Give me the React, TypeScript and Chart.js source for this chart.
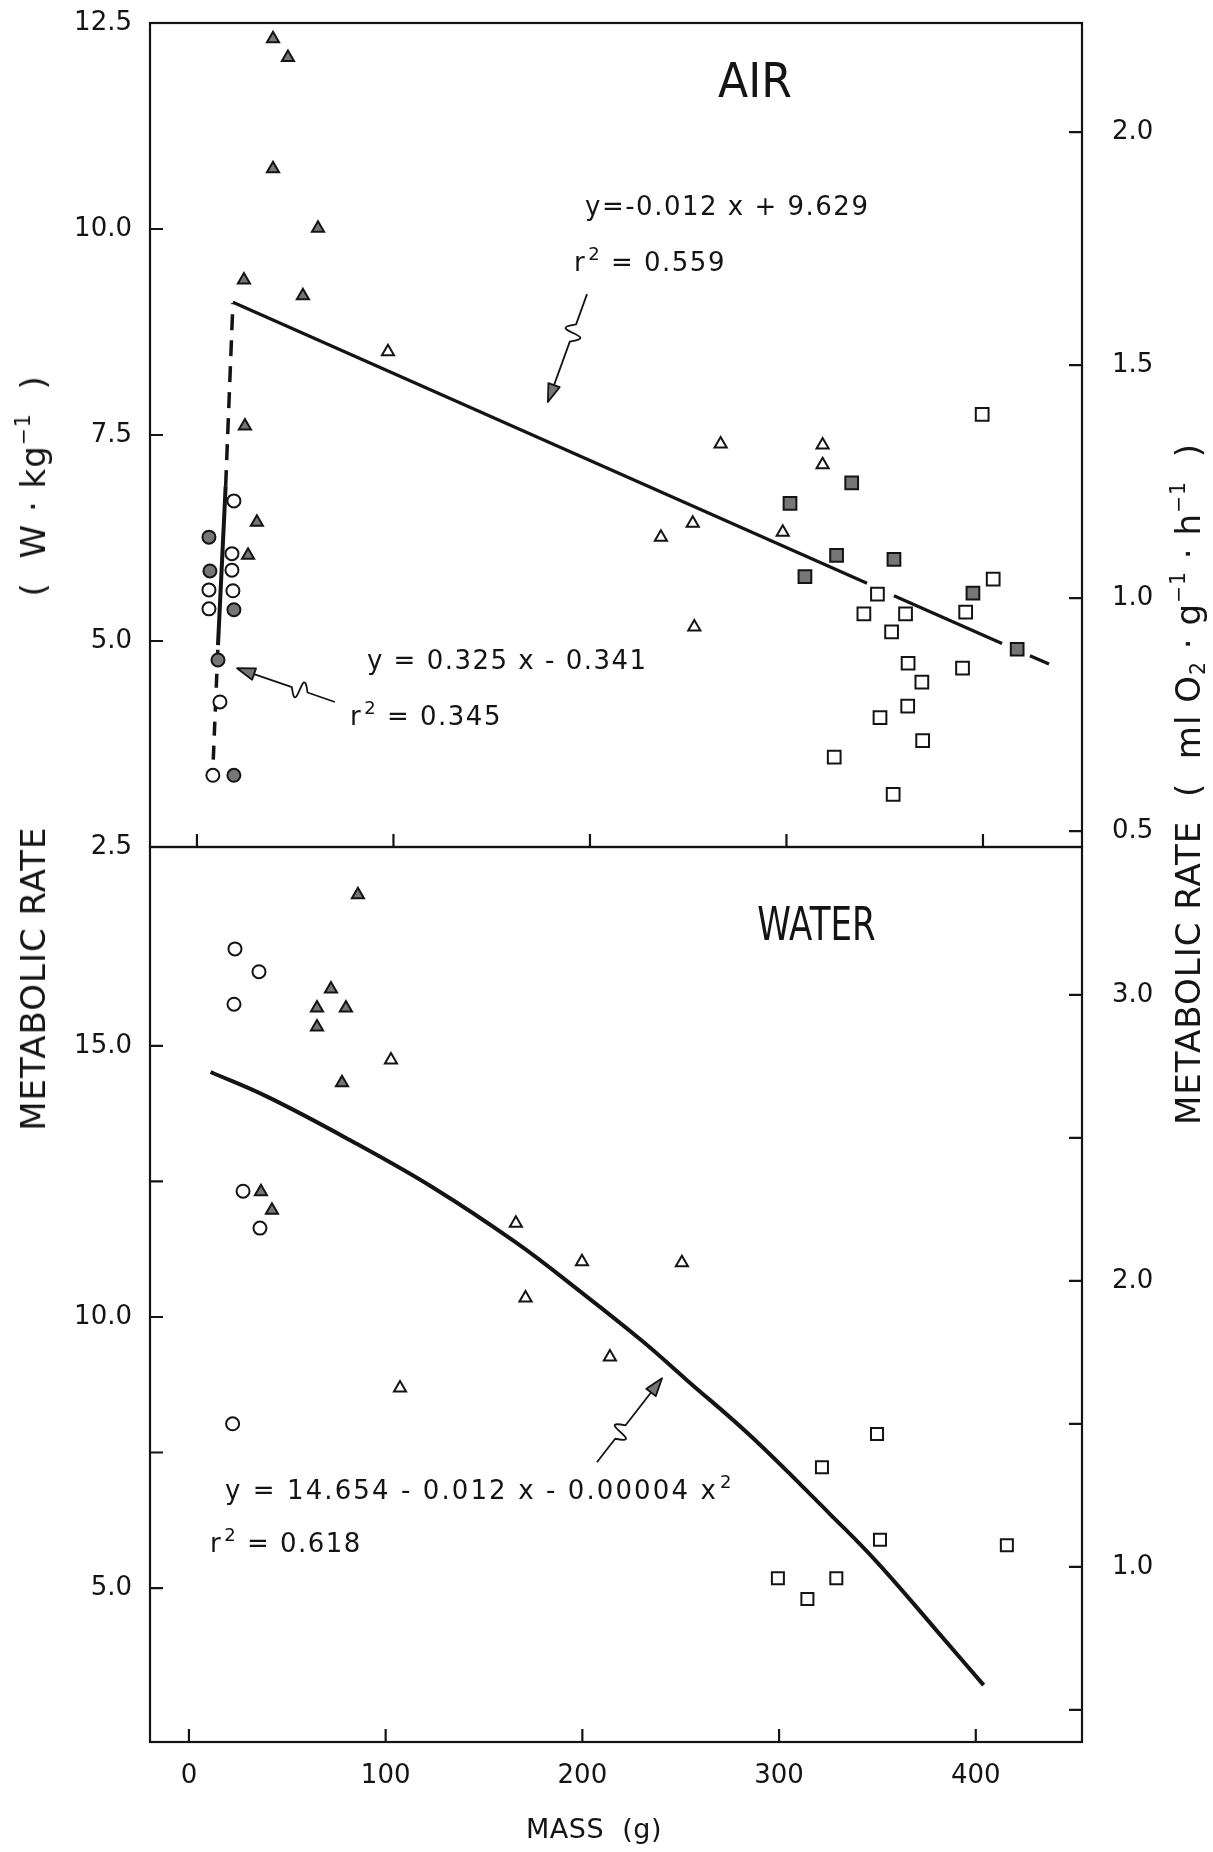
import React, { useEffect, useRef } from 'react';
import { Chart, registerables } from 'chart.js';

Chart.register(...registerables);

const INK = '#141414';
const GREY = '#767676';
const FONT = '"DejaVu Sans", "Liberation Sans", sans-serif';

// ---------- axes ----------
const massTicks = [0, 100, 200, 300, 400];
const massTickLabels = ['0', '100', '200', '300', '400'];
const airLeftTicks = [2.5, 5, 7.5, 10, 12.5];
const airLeftTickLabels = ['2.5', '5.0', '7.5', '10.0', '12.5'];
const airRightTicks = [0.5, 1.0, 1.5, 2.0];
const airRightTickLabels = ['0.5', '1.0', '1.5', '2.0'];
const waterLeftTicks = [5, 7.5, 10, 12.5, 15];
const waterLeftTickLabels = ['5.0', '', '10.0', '', '15.0'];
const waterRightTicks = [0.5, 1.0, 1.5, 2.0, 2.5, 3.0];
const waterRightTickLabels = ['', '1.0', '', '2.0', '', '3.0'];

// ---------- AIR panel data (mass g, W/kg) ----------
const airOpenCircleX = [18.8, 17.8, 17.8, 6.1, 18.3, 6.1, 11.7, 8.1];
const airOpenCircleY = [6.70, 6.06, 5.86, 5.62, 5.61, 5.39, 4.26, 3.37];
const airFilledCircleX = [6.1, 6.6, 18.8, 10.7, 18.8];
const airFilledCircleY = [6.26, 5.85, 5.38, 4.77, 3.37];
const airFilledTriX = [38.7, 46.3, 38.7, 61.6, 23.9, 53.9, 24.4, 30.5, 26.0];
const airFilledTriY = [12.31, 12.08, 10.73, 10.01, 9.38, 9.19, 7.61, 6.44, 6.04];
const airOpenTriX = [97.2, 266.5, 318.4, 318.4, 252.3, 236.1, 298.1, 253.1];
const airOpenTriY = [8.51, 7.39, 7.38, 7.14, 6.43, 6.26, 6.32, 5.17];
const airFilledSqX = [333.2, 301.8, 325.5, 354.7, 309.4, 394.9, 417.4];
const airFilledSqY = [6.92, 6.67, 6.04, 5.99, 5.78, 5.58, 4.90];
const airOpenSqX = [399.6, 405.2, 346.3, 339.4, 360.6, 391.2, 353.5, 361.9, 389.6, 368.9, 361.7, 347.6, 369.3, 324.3, 354.3];
const airOpenSqY = [7.75, 5.75, 5.57, 5.33, 5.33, 5.35, 5.11, 4.73, 4.67, 4.50, 4.21, 4.07, 3.79, 3.59, 3.14];

// regression lines (AIR)
const airSmallSolidX = [10.7, 14.6];
const airSmallSolidY = [4.95, 6.88];
const airSmallDashLowX = [8.3, 10.7];
const airSmallDashLowY = [3.56, 4.95];
const airSmallDashHighX = [14.6, 18.3];
const airSmallDashHighY = [6.88, 9.10];
const airBigAX = [18.3, 341];
const airBigAY = [9.11, 5.70];
const airBigBX = [354.7, 409.7];
const airBigBY = [5.55, 4.97];
const airBigCX = [423.9, 433.6];
const airBigCY = [4.82, 4.72];

// ---------- WATER panel data ----------
const waterOpenCircleX = [23.4, 35.6, 22.9, 27.5, 36.1, 22.2];
const waterOpenCircleY = [16.79, 16.37, 15.77, 12.32, 11.64, 8.03];
const waterFilledTriX = [85.9, 72.2, 65.1, 79.8, 65.1, 77.8, 36.6, 42.2];
const waterFilledTriY = [17.79, 16.05, 15.70, 15.70, 15.35, 14.32, 12.31, 11.97];
const waterOpenTriX = [102.7, 166.2, 199.8, 250.6, 171.1, 214.0, 107.3];
const waterOpenTriY = [14.74, 11.73, 11.02, 11.0, 10.35, 9.26, 8.69];
const waterOpenSqX = [349.8, 321.8, 351.3, 415.8, 299.4, 329.1, 314.4];
const waterOpenSqY = [7.84, 7.23, 5.89, 5.79, 5.18, 5.18, 4.80];
const waterFitX = [11, 40, 82, 124, 166, 200, 230, 253, 286, 326, 350, 380, 404];
const waterFitY = [14.52, 14.06, 13.26, 12.39, 11.38, 10.44, 9.57, 8.84, 7.79, 6.36, 5.47, 4.22, 3.21];

// ---------- annotations ----------
const airNotes = [
  { x: 284, y: 11.75, size: 48, sx: 0.92, align: 'center', baseline: 'middle', parts: [{ t: 'AIR' }] },
  { x: 197.5, y: 10.17, size: 26, spacing: 1.5, parts: [{ t: 'y=-0.012 x + 9.629' }] },
  { x: 191.9, y: 9.49, size: 26, spacing: 1.5, parts: [{ t: 'r' }, { t: '2', sup: true }, { t: ' = 0.559' }] },
  { x: 86.5, y: 4.66, size: 26, spacing: 1.5, parts: [{ t: 'y = 0.325 x - 0.341' }] },
  { x: 77.9, y: 3.98, size: 26, spacing: 1.5, parts: [{ t: 'r' }, { t: '2', sup: true }, { t: ' = 0.345' }] },
];
const airArrows = [
  { from: [198.5, 9.21], to: [178.6, 7.90] },
  { from: [70.2, 4.26], to: [20.4, 4.67] },
];
const waterNotes = [
  { x: 319, y: 17.18, size: 46, sx: 0.74, align: 'center', baseline: 'middle', parts: [{ t: 'WATER' }] },
  { x: 18.3, y: 6.64, size: 26, spacing: 2.1, parts: [{ t: 'y = 14.654 - 0.012 x - 0.00004 x' }, { t: '2', sup: true }] },
  { x: 10.7, y: 5.67, size: 26, spacing: 1.5, parts: [{ t: 'r' }, { t: '2', sup: true }, { t: ' = 0.618' }] },
];
const waterArrows = [{ from: [207.4, 7.32], to: [240.5, 8.87] }];

// ---------- helpers ----------
const pts = (xs: number[], ys: number[]) => xs.map((x, i) => ({ x, y: ys[i] }));

function drawRich(ctx: CanvasRenderingContext2D, x: number, y: number, n: any) {
  const size = n.size;
  const fontFor = (p: any) => `${p.sup || p.sub ? Math.round(size * 0.7) : size}px ${FONT}`;
  (ctx as any).letterSpacing = (n.spacing || 0) + 'px';
  let w = 0;
  for (const p of n.parts) {
    ctx.font = fontFor(p);
    w += ctx.measureText(p.t).width;
  }
  ctx.save();
  ctx.translate(x, y);
  ctx.scale(n.sx || 1, 1);
  ctx.textAlign = 'left';
  ctx.textBaseline = n.baseline || 'alphabetic';
  let cx = n.align === 'center' ? -w / 2 : 0;
  for (const p of n.parts) {
    ctx.font = fontFor(p);
    const dy = p.sup ? -size * 0.42 : p.sub ? size * 0.22 : 0;
    ctx.fillText(p.t, cx + (p.sup ? 2 : 0), dy);
    cx += ctx.measureText(p.t).width + (p.sup ? 2 : 0);
  }
  ctx.restore();
  (ctx as any).letterSpacing = '0px';
}

function drawSquiggleArrow(ctx: CanvasRenderingContext2D, x0: number, y0: number, x1: number, y1: number) {
  const dx = x1 - x0, dy = y1 - y0, L = Math.hypot(dx, dy);
  const ux = dx / L, uy = dy / L, nx = -uy, ny = ux;
  const head = 18, hw = 6;
  const ax = x0 + ux * L * 0.28, ay = y0 + uy * L * 0.28;
  const bx = x0 + ux * L * 0.44, by = y0 + uy * L * 0.44;
  const k = 30;
  ctx.lineWidth = 1.8;
  ctx.strokeStyle = INK;
  ctx.lineJoin = 'round';
  ctx.beginPath();
  ctx.moveTo(x0, y0);
  ctx.lineTo(ax, ay);
  ctx.bezierCurveTo(ax + nx * k + ux * L * 0.14, ay + ny * k + uy * L * 0.14,
    bx - nx * k - ux * L * 0.14, by - ny * k - uy * L * 0.14, bx, by);
  const hx = x1 - ux * head, hy = y1 - uy * head;
  ctx.lineTo(hx, hy);
  ctx.stroke();
  ctx.beginPath();
  ctx.moveTo(x1, y1);
  ctx.lineTo(hx + nx * hw, hy + ny * hw);
  ctx.lineTo(hx - nx * hw, hy - ny * hw);
  ctx.closePath();
  ctx.fillStyle = GREY;
  ctx.fill();
  ctx.stroke();
}

const frameTicksPlugin = {
  id: 'frameTicks',
  beforeDatasetsDraw(chart: any) {
    const { ctx, chartArea: a, scales } = chart;
    ctx.save();
    ctx.strokeStyle = INK;
    ctx.lineWidth = 2.2;
    ctx.strokeRect(a.left, a.top, a.right - a.left, a.bottom - a.top);
    const TL = 13;
    ctx.beginPath();
    for (const t of scales.x.ticks) {
      const p = scales.x.getPixelForValue(t.value);
      ctx.moveTo(p, a.bottom); ctx.lineTo(p, a.bottom - TL);
    }
    for (const t of scales.y.ticks) {
      const p = scales.y.getPixelForValue(t.value);
      ctx.moveTo(a.left, p); ctx.lineTo(a.left + TL, p);
    }
    for (const t of scales.y2.ticks) {
      const p = scales.y2.getPixelForValue(t.value);
      ctx.moveTo(a.right, p); ctx.lineTo(a.right - TL, p);
    }
    ctx.stroke();
    ctx.restore();
  },
};

const notesPlugin = {
  id: 'notes',
  afterDatasetsDraw(chart: any, _args: any, opts: any) {
    const { ctx, scales } = chart;
    const X = (v: number) => scales.x.getPixelForValue(v);
    const Y = (v: number) => scales.y.getPixelForValue(v);
    ctx.save();
    ctx.fillStyle = INK;
    for (const n of opts.texts || []) drawRich(ctx, X(n.x), Y(n.y), n);
    for (const a of opts.arrows || []) drawSquiggleArrow(ctx, X(a.from[0]), Y(a.from[1]), X(a.to[0]), Y(a.to[1]));
    ctx.restore();
  },
};

function scatterSet(data: any[], style: string, radius: number, fill: string) {
  return {
    data, showLine: false, pointStyle: style, pointRadius: radius, pointHoverRadius: radius,
    pointBackgroundColor: fill, pointBorderColor: INK, pointBorderWidth: 2, clip: false,
  };
}
function lineSet(data: any[], width: number, dash: number[] = [], tension = 0) {
  return {
    data, showLine: true, pointRadius: 0, borderColor: INK, borderWidth: width,
    borderDash: dash, tension, borderCapStyle: 'butt', clip: false,
  };
}

function fixedTicks(values: number[]) {
  return (scale: any) => { scale.ticks = values.map((v) => ({ value: v })); };
}
function tickText(values: number[], labels: string[]) {
  return (value: any) => {
    const i = values.findIndex((v) => Math.abs(v - Number(value)) < 1e-6);
    return i >= 0 ? labels[i] : '';
  };
}

function makeConfig(p: any): any {
  const tickFont = { size: 26, family: FONT };
  return {
    type: 'scatter',
    data: { datasets: p.datasets },
    plugins: [frameTicksPlugin, notesPlugin],
    options: {
      responsive: false,
      animation: false,
      events: [],
      layout: { padding: { top: p.padTop, bottom: p.padBottom, left: 0, right: 0 } },
      plugins: {
        legend: { display: false },
        tooltip: { enabled: false },
        notes: { texts: p.notes, arrows: p.arrows },
      },
      scales: {
        x: {
          type: 'linear', position: 'bottom', min: p.xMin, max: p.xMax,
          grid: { display: false, drawTicks: false }, border: { display: false },
          afterBuildTicks: fixedTicks(massTicks),
          afterFit: (s: any) => { s.height = p.xHeight; },
          ticks: {
            display: p.showX, font: tickFont, color: INK, padding: 19, autoSkip: false, maxRotation: 0,
            callback: tickText(massTicks, massTickLabels),
          },
        },
        y: {
          type: 'linear', position: 'left', min: p.yMin, max: p.yMax,
          grid: { display: false, drawTicks: false }, border: { display: false },
          afterBuildTicks: fixedTicks(p.yTicks),
          afterFit: (s: any) => { s.width = 150; },
          ticks: { font: tickFont, color: INK, padding: 18, autoSkip: false, callback: tickText(p.yTicks, p.yLabels) },
        },
        y2: {
          type: 'linear', position: 'right', min: p.y2Min, max: p.y2Max,
          grid: { display: false, drawTicks: false }, border: { display: false },
          afterBuildTicks: fixedTicks(p.y2Ticks),
          afterFit: (s: any) => { s.width = 131; },
          ticks: { font: tickFont, color: INK, padding: 30, autoSkip: false, callback: tickText(p.y2Ticks, p.y2Labels) },
        },
      },
    },
  };
}

export default function App() {
  const airRef = useRef<HTMLCanvasElement>(null);
  const waterRef = useRef<HTMLCanvasElement>(null);

  useEffect(() => {
    Chart.defaults.font.family = FONT;
    Chart.defaults.color = INK;

    const airDatasets = [
      scatterSet(pts(airOpenCircleX, airOpenCircleY), 'circle', 6.5, '#ffffff'),
      scatterSet(pts(airFilledCircleX, airFilledCircleY), 'circle', 6.5, GREY),
      scatterSet(pts(airFilledTriX, airFilledTriY), 'triangle', 7, GREY),
      scatterSet(pts(airOpenTriX, airOpenTriY), 'triangle', 7, '#ffffff'),
      scatterSet(pts(airFilledSqX, airFilledSqY), 'rect', 9, GREY),
      scatterSet(pts(airOpenSqX, airOpenSqY), 'rect', 9, '#ffffff'),
      lineSet(pts(airSmallSolidX, airSmallSolidY), 4),
      lineSet(pts(airSmallDashLowX, airSmallDashLowY), 3.5, [14, 10]),
      lineSet(pts(airSmallDashHighX, airSmallDashHighY), 3.5, [16, 10]),
      lineSet(pts(airBigAX, airBigAY), 3.2),
      lineSet(pts(airBigBX, airBigBY), 3.2),
      lineSet(pts(airBigCX, airBigCY), 3.2),
    ];
    const waterDatasets = [
      scatterSet(pts(waterOpenCircleX, waterOpenCircleY), 'circle', 6.5, '#ffffff'),
      scatterSet(pts(waterFilledTriX, waterFilledTriY), 'triangle', 7, GREY),
      scatterSet(pts(waterOpenTriX, waterOpenTriY), 'triangle', 7, '#ffffff'),
      scatterSet(pts(waterOpenSqX, waterOpenSqY), 'rect', 8.5, '#ffffff'),
      lineSet(pts(waterFitX, waterFitY), 4, [], 0.4),
    ];

    const air = new Chart(airRef.current as HTMLCanvasElement, makeConfig({
      datasets: airDatasets, xMin: -23.9, xMax: 450.4, yMin: 2.5, yMax: 12.5, y2Min: 0.466, y2Max: 2.234,
      yTicks: airLeftTicks, yLabels: airLeftTickLabels, y2Ticks: airRightTicks, y2Labels: airRightTickLabels,
      showX: false, padTop: 50, padBottom: 20, xHeight: 33, notes: airNotes, arrows: airArrows,
    }));
    const water = new Chart(waterRef.current as HTMLCanvasElement, makeConfig({
      datasets: waterDatasets, xMin: -19.8, xMax: 454.0, yMin: 2.16, yMax: 18.67, y2Min: 0.388, y2Max: 3.517,
      yTicks: waterLeftTicks, yLabels: waterLeftTickLabels, y2Ticks: waterRightTicks, y2Labels: waterRightTickLabels,
      showX: true, padTop: 50, padBottom: 0, xHeight: 110, notes: waterNotes, arrows: waterArrows,
    }));
    return () => { air.destroy(); water.destroy(); };
  }, []);

  const titleBase: React.CSSProperties = {
    position: 'absolute', whiteSpace: 'nowrap', fontFamily: FONT, fontSize: 34, color: INK,
    lineHeight: 1, transform: 'translate(-50%, -50%) rotate(-90deg)', letterSpacing: '1px',
  };
  const sup: React.CSSProperties = { fontSize: '0.6em', verticalAlign: '0.75em', lineHeight: 0 };
  const sub: React.CSSProperties = { fontSize: '0.6em', verticalAlign: '-0.25em', lineHeight: 0 };

  return (
    <div style={{ position: 'absolute', left: 0, top: 0, width: 1213, height: 1852, overflow: 'hidden', background: '#ffffff' }}>
      <canvas ref={airRef} width={1213} height={927} style={{ position: 'absolute', left: 0, top: -27 }} />
      <canvas ref={waterRef} width={1213} height={1055} style={{ position: 'absolute', left: 0, top: 797 }} />
      <div style={{ ...titleBase, left: 33, top: 753 }}>
        <span>METABOLIC RATE</span>
        <span style={{ marginLeft: 230 }}>(&nbsp;&nbsp;W · kg<span style={sup}>−1</span>&nbsp;&nbsp;)</span>
      </div>
      <div style={{ ...titleBase, left: 1188, top: 784 }}>
        <span>METABOLIC RATE&nbsp;&nbsp;(&nbsp;&nbsp;ml O<span style={sub}>2</span>&nbsp;·&nbsp;g<span style={sup}>−1</span>&nbsp;·&nbsp;h<span style={sup}>−1</span>&nbsp;&nbsp;)</span>
      </div>
      <div style={{ position: 'absolute', left: 594, top: 1828, transform: 'translate(-50%, -50%)', whiteSpace: 'nowrap', fontFamily: FONT, fontSize: 27, color: INK, letterSpacing: '0.5px' }}>
        MASS&nbsp;&nbsp;(g)
      </div>
    </div>
  );
}
